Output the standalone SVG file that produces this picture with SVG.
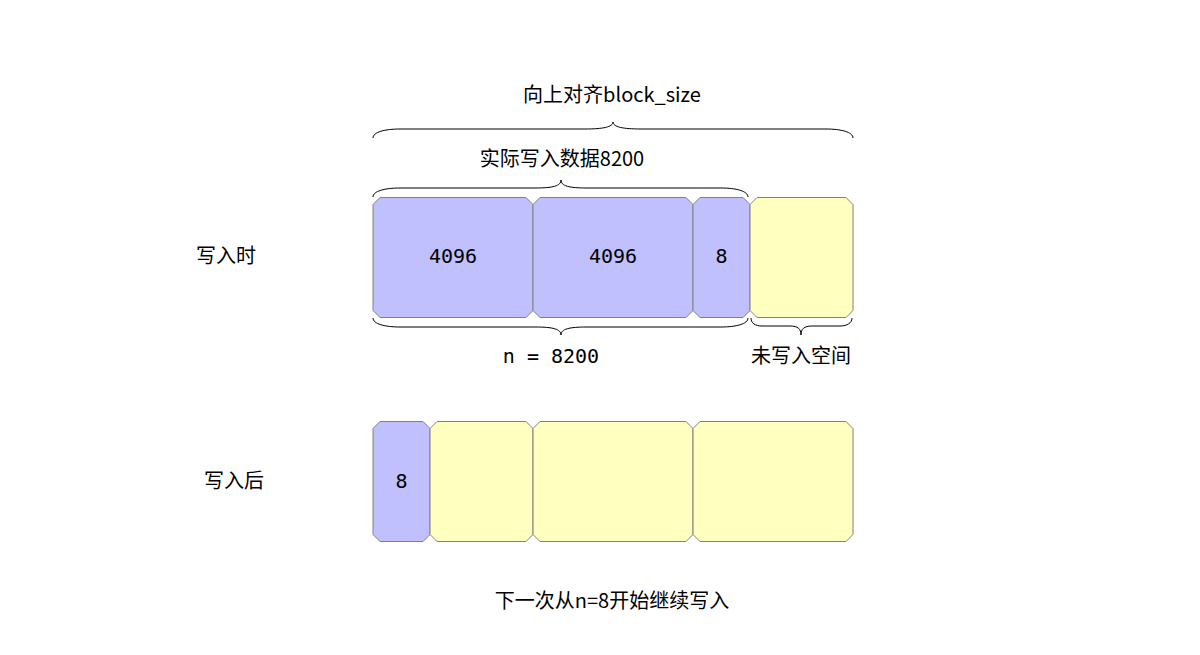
<svg xmlns="http://www.w3.org/2000/svg" width="1200" height="655" viewBox="0 0 1200 655">
<style>
.b{fill:#C0C0FF;stroke:#808080;stroke-width:1}
.y{fill:#FFFFC0;stroke:#808080;stroke-width:1}
.num{font-family:"DejaVu Sans Mono","Liberation Mono",monospace;font-size:20px;fill:#000;text-anchor:middle}
.lbl{font-family:"Noto Sans CJK SC","Noto Sans",sans-serif;font-size:20px;fill:#000;text-anchor:middle}
.br{fill:none;stroke:#000;stroke-width:1}
</style>
<rect width="1200" height="655" fill="#fff"/>
<g id="row1">
<g id="n1"><polygon class="b" points="380,197.5 526,197.5 533,204.5 533,310.5 526,317.5 380,317.5 373,310.5 373,204.5"/><text class="num" x="453" y="263">4096</text></g>
<g id="n2"><polygon class="b" points="540,197.5 686,197.5 693,204.5 693,310.5 686,317.5 540,317.5 533,310.5 533,204.5"/><text class="num" x="613" y="263">4096</text></g>
<g id="n3"><polygon class="b" points="700,197.5 743,197.5 750,204.5 750,310.5 743,317.5 700,317.5 693,310.5 693,204.5"/><text class="num" x="721.5" y="263">8</text></g>
<g id="n4"><polygon class="y" points="757,197.5 846,197.5 853,204.5 853,310.5 846,317.5 757,317.5 750,310.5 750,204.5"/></g>
</g>
<g id="row2">
<g id="m1"><polygon class="b" points="380,421.5 423,421.5 430,428.5 430,534.5 423,541.5 380,541.5 373,534.5 373,428.5"/><text class="num" x="401.5" y="488">8</text></g>
<g id="m2"><polygon class="y" points="437,421.5 526,421.5 533,428.5 533,534.5 526,541.5 437,541.5 430,534.5 430,428.5"/></g>
<g id="m3"><polygon class="y" points="540,421.5 686,421.5 693,428.5 693,534.5 686,541.5 540,541.5 533,534.5 533,428.5"/></g>
<g id="m4"><polygon class="y" points="700,421.5 846,421.5 853,428.5 853,534.5 846,541.5 700,541.5 693,534.5 693,428.5"/></g>
</g>
<g id="braces">
<path class="br" d="M373,138 C373,132 385,129 400,129 L585,129 C603,129 613,127 613,122 C613,127 623,129 641,129 L826,129 C841,129 853,132 853,138"/>
<path class="br" d="M373,197 C373,191 385,188 400,188 L535,188 C553,188 561,186 561,180 C561,186 569,188 587,188 L721,188 C736,188 748,191 748,197"/>
<path class="br" d="M373,318 C373,324 385,327 400,327 L535,327 C553,327 561,329 561,335 C561,329 569,327 587,327 L721,327 C736,327 748,324 748,318"/>
<path class="br" d="M751,318 C751,323 755,326 762,326 L790,326 C798,326 801,329 801,335 C801,329 804,326 812,326 L840,326 C847,326 852,323 852,318"/>
</g>
<g id="labels">
<text class="lbl" x="612" y="102">向上对齐block_size</text>
<text class="lbl" x="562" y="166">实际写入数据8200</text>
<text class="num" x="551" y="363">n = 8200</text>
<text class="lbl" x="801" y="363">未写入空间</text>
<text class="lbl" x="226" y="263">写入时</text>
<text class="lbl" x="234" y="488">写入后</text>
<text class="lbl" x="612" y="608">下一次从n=8开始继续写入</text>
</g>
</svg>
